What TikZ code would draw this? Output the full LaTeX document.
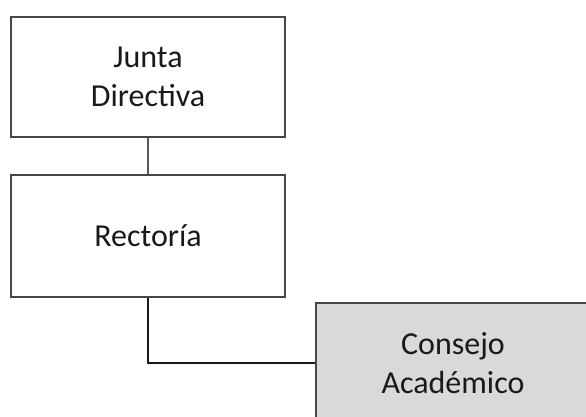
\documentclass[tikz,border=0pt]{standalone}
\usepackage{fontspec}
\setmainfont{Carlito}
\begin{document}
\begin{tikzpicture}[x=1pt,y=-1pt,
  orgbox/.style={draw=black!72, line width=2.8pt, minimum width=274pt, minimum height=120pt,
    align=center, font=\fontsize{32}{39}\selectfont, text=black!90, inner sep=0pt},
  link/.style={line width=2.8pt}]
\clip (0,0) rectangle (586,417);
\fill[white] (0,0) rectangle (586,417);
\node[orgbox, fill=white] (junta) at (148,77) {Junta\\Directiva};
\node[orgbox, fill=white, minimum height=122pt] (rect) at (148,236) {Rectoría};
\node[orgbox, fill=black!15] (consejo) at (453,363) {Consejo\\Académico};
\draw[link, draw=black!65] (junta.south) -- (rect.north);
\draw[link, draw=black!90] (rect.south) |- (consejo.west);
\end{tikzpicture}
\end{document}
